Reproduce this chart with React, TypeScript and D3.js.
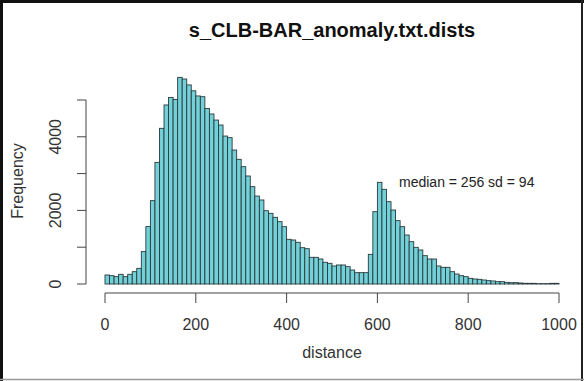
import { useEffect, useRef } from 'react';
import * as d3 from 'd3';

const binWidth = 10;
const binCounts = [
  245, 226, 200, 263, 200, 263, 335, 425, 880, 1560,
  2265, 3305, 4230, 4865, 5070, 5015, 5615, 5570, 5410, 5250,
  5110, 5090, 4770, 4620, 4455, 4320, 4020, 3977, 3640, 3387,
  3188, 2935, 2645, 2390, 2283, 1992, 1920, 1812, 1694, 1558,
  1214, 1196, 1133, 987, 960, 725, 725, 680, 590, 562,
  489, 516, 516, 471, 380, 308, 308, 308, 806, 1965,
  2763, 2573, 2237, 2010, 1721, 1558, 1331, 1150, 996, 924,
  770, 679, 679, 489, 453, 453, 335, 272, 226, 200,
  154, 136, 127, 109, 91, 82, 64, 64, 45, 36,
  36, 27, 18, 18, 18, 10, 10, 10, 18, 18,
];
const xTicks = [0, 200, 400, 600, 800, 1000];
const yTicks = [0, 1000, 2000, 3000, 4000, 5000];
const yTickLabels = ['0', '', '2000', '', '4000', ''];

const title = 's_CLB-BAR_anomaly.txt.dists';
const xLabel = 'distance';
const yLabel = 'Frequency';
const note = 'median = 256 sd = 94';

export default function App() {
  const svgRef = useRef<SVGSVGElement>(null);

  useEffect(() => {
    if (!svgRef.current) {
      return;
    }
    const width = 584;
    const height = 381;
    const svg = d3.select(svgRef.current);
    svg.selectAll('*').remove();
    svg.attr('width', width).attr('height', height);

    const font = '"Liberation Sans", Arial, Helvetica, sans-serif';
    const x = d3.scaleLinear().domain([0, 1000]).range([105, 559]);
    const y = d3.scaleLinear().domain([0, 5000]).range([284, 100]);
    const axisY = 293;
    const axisX = 86;

    svg.append('rect').attr('width', width).attr('height', height).attr('fill', 'white');

    // bars
    svg
      .append('g')
      .selectAll('rect')
      .data(binCounts)
      .enter()
      .append('rect')
      .attr('x', (_d, i) => x(i * binWidth))
      .attr('y', (d) => y(d))
      .attr('width', x(binWidth) - x(0))
      .attr('height', (d) => y(0) - y(d))
      .attr('fill', '#72d1d8')
      .attr('stroke', '#2b3a3c')
      .attr('stroke-width', 0.9);

    // x axis
    const gx = svg.append('g').attr('stroke', '#444').attr('fill', 'none');
    gx.append('line')
      .attr('x1', x(0))
      .attr('x2', x(1000))
      .attr('y1', axisY)
      .attr('y2', axisY);
    gx.selectAll('line.tick')
      .data(xTicks)
      .enter()
      .append('line')
      .attr('class', 'tick')
      .attr('x1', (d) => x(d))
      .attr('x2', (d) => x(d))
      .attr('y1', axisY)
      .attr('y2', axisY + 10);
    svg
      .append('g')
      .selectAll('text')
      .data(xTicks)
      .enter()
      .append('text')
      .attr('x', (d) => x(d))
      .attr('y', 330)
      .attr('text-anchor', 'middle')
      .attr('font-family', font)
      .attr('font-size', 16)
      .attr('fill', '#333')
      .text((d) => String(d));

    // y axis
    const gy = svg.append('g').attr('stroke', '#444').attr('fill', 'none');
    gy.append('line')
      .attr('x1', axisX)
      .attr('x2', axisX)
      .attr('y1', y(0))
      .attr('y2', y(5000));
    gy.selectAll('line.tick')
      .data(yTicks)
      .enter()
      .append('line')
      .attr('class', 'tick')
      .attr('x1', axisX)
      .attr('x2', axisX - 9)
      .attr('y1', (d) => y(d))
      .attr('y2', (d) => y(d));
    svg
      .append('g')
      .selectAll('text')
      .data(yTicks)
      .enter()
      .append('text')
      .attr('transform', (d) => `translate(61,${y(d)})rotate(-90)`)
      .attr('text-anchor', 'middle')
      .attr('font-family', font)
      .attr('font-size', 16)
      .attr('fill', '#333')
      .text((_d, i) => yTickLabels[i]);

    // labels
    svg
      .append('text')
      .attr('x', 332)
      .attr('y', 37)
      .attr('text-anchor', 'middle')
      .attr('font-family', font)
      .attr('font-size', 20)
      .attr('font-weight', 'bold')
      .attr('fill', '#111')
      .text(title);
    svg
      .append('text')
      .attr('x', 332)
      .attr('y', 358)
      .attr('text-anchor', 'middle')
      .attr('font-family', font)
      .attr('font-size', 16)
      .attr('fill', '#333')
      .text(xLabel);
    svg
      .append('text')
      .attr('transform', `translate(23,181)rotate(-90)`)
      .attr('text-anchor', 'middle')
      .attr('font-family', font)
      .attr('font-size', 16)
      .attr('fill', '#333')
      .text(yLabel);
    svg
      .append('text')
      .attr('x', 399)
      .attr('y', 187)
      .attr('font-family', font)
      .attr('font-size', 14)
      .attr('fill', '#222')
      .text(note);

    // outer frame
    svg.append('line').attr('x1', 1.5).attr('x2', 1.5).attr('y1', 0).attr('y2', height).attr('stroke', '#111').attr('stroke-width', 3);
    svg.append('line').attr('x1', 0).attr('x2', width).attr('y1', 1.5).attr('y2', 1.5).attr('stroke', '#111').attr('stroke-width', 3);
    svg.append('line').attr('x1', 582).attr('x2', 582).attr('y1', 0).attr('y2', height).attr('stroke', '#222').attr('stroke-width', 2);
    svg.append('line').attr('x1', 0).attr('x2', width).attr('y1', 379.5).attr('y2', 379.5).attr('stroke', '#999').attr('stroke-width', 1.5);
  }, []);

  return <svg ref={svgRef} style={{ position: 'absolute', left: 0, top: 0 }} />;
}
